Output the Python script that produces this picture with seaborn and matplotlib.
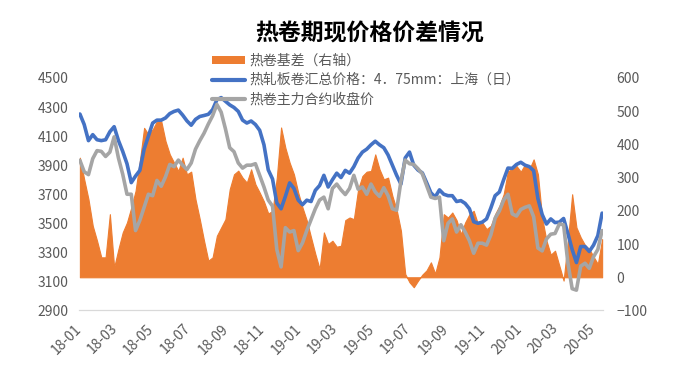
import pandas as pd
import seaborn as sns
import matplotlib.pyplot as plt
import matplotlib.dates as mdates
from matplotlib.patches import Patch
from matplotlib.lines import Line2D

# ---- data (roughly weekly samples) ----
dates = pd.date_range('2018-01-02', '2020-05-17', periods=123)

spot = [4252, 4180, 4069, 4110, 4075, 4069, 4075, 4130, 4165, 4070,
        3995, 3910, 3780, 3825, 3864, 4010, 4100, 4190, 4210, 4210,
        4225, 4255, 4270, 4279, 4245, 4205, 4175, 4215, 4235, 4242,
        4250, 4282, 4350, 4365, 4340, 4315, 4297, 4270, 4210, 4190,
        4204, 4180, 4140, 4040, 3868, 3805, 3640, 3600, 3685, 3778,
        3740, 3660, 3628, 3659, 3650, 3727, 3760, 3830, 3750, 3800,
        3845, 3815, 3864, 3845, 3890, 3950, 3990, 4010, 4040, 4065,
        4040, 4020, 3970, 3900, 3830, 3770, 3950, 3990, 3900, 3866,
        3847, 3780, 3710, 3681, 3730, 3700, 3690, 3690, 3650, 3656,
        3637, 3600, 3511, 3500, 3508, 3530, 3605, 3690, 3715, 3800,
        3880, 3878, 3905, 3920, 3900, 3890, 3862, 3670, 3560, 3495,
        3530, 3505, 3508, 3533, 3430, 3320, 3230, 3340, 3340, 3306,
        3350, 3415, 3570]

futures = [3933, 3855, 3835, 3945, 4000, 3995, 3960, 3990, 4095, 3950,
           3838, 3700, 3700, 3450, 3520, 3610, 3700, 3690, 3795, 3755,
           3820, 3905, 3890, 3935, 3900, 3870, 3915, 4010, 4068, 4120,
           4183, 4240, 4318, 4265, 4150, 4020, 3993, 3915, 3880, 3900,
           3900, 3910, 3830, 3750, 3660, 3618, 3320, 3200, 3470, 3440,
           3450, 3312, 3365, 3450, 3525, 3600, 3660, 3680, 3600, 3740,
           3770, 3730, 3698, 3740, 3830, 3735, 3750, 3700, 3770, 3716,
           3685, 3745, 3690, 3600, 3590, 3790, 3935, 3910, 3905, 3875,
           3840, 3760, 3680, 3671, 3680, 3380, 3500, 3530, 3440, 3490,
           3440, 3380, 3294, 3363, 3363, 3350, 3420, 3535, 3585, 3660,
           3700, 3565, 3550, 3595, 3610, 3620, 3545, 3330, 3310, 3392,
           3425, 3430, 3495, 3490, 3230, 3050, 3040, 3205, 3225, 3190,
           3270, 3320, 3450]

basis = [360, 295, 235, 155, 110, 60, 60, 190, 30, 85,
         135, 165, 210, 260, 350, 450, 430, 445, 470, 470,
         410, 370, 345, 320, 360, 310, 318, 235, 175, 110,
         50, 60, 125, 150, 175, 265, 310, 321, 300, 285,
         325, 280, 255, 228, 192, 200, 300, 451, 390, 345,
         310, 255, 210, 171, 120, 70, 25, 135, 100, 110,
         92, 95, 172, 180, 175, 265, 305, 318, 320, 370,
         325, 295, 300, 245, 203, 140, 10, -15, -30, -10,
         8, 21, 45, 11, 60, 190, 180, 195, 172, 130,
         165, 190, 200, 160, 165, 145, 155, 190, 215, 250,
         320, 325, 335, 318, 340, 325, 355, 310, 178, 110,
         68, 80, 35, -10, 110, 250, 150, 120, 97, 85,
         62, 40, 115]

df = pd.DataFrame({'date': dates, 'spot': spot, 'futures': futures, 'basis': basis})

label_basis = '热卷基差（右轴）'
label_spot = '热轧板卷汇总价格：4．75mm：上海（日）'
label_fut = '热卷主力合约收盘价'

c_orange = '#ED7D31'
c_blue = '#4472C4'
c_gray = '#A5A5A5'
c_text = '#595959'

sns.set_style('white')
plt.rcParams['font.family'] = ['Noto Sans CJK SC', 'DejaVu Sans']

fig = plt.figure(figsize=(6.86, 3.73), dpi=100)
ax = fig.add_axes([0.1156, 0.1676, 0.8786 - 0.1156, 0.7909 - 0.1676])
ax2 = ax.twinx()

# basis area on the right axis, behind the price lines
ax2.fill_between(df['date'], 0, df['basis'], color=c_orange, linewidth=0.8, edgecolor=c_orange)
ax2.set_ylim(-100, 600)
ax2.set_yticks(range(-100, 601, 100))

sns.lineplot(data=df, x='date', y='spot', ax=ax, color=c_blue, linewidth=2.6)
sns.lineplot(data=df, x='date', y='futures', ax=ax, color=c_gray, linewidth=2.6)
ax.set_ylim(2900, 4500)
ax.set_yticks(range(2900, 4501, 200))

ax.set_zorder(ax2.get_zorder() + 1)
ax.patch.set_visible(False)

ax.set_xlim(pd.Timestamp('2018-01-01'), pd.Timestamp('2020-05-18'))
ax.set_xticks(pd.date_range('2018-01-01', '2020-05-01', freq='2MS'))
ax.xaxis.set_major_formatter(mdates.DateFormatter('%y-%m'))
ax.set_xlabel('')
ax.set_ylabel('')
ax2.set_ylabel('')

for a in (ax, ax2):
    for s in a.spines.values():
        s.set_visible(False)
ax.spines['bottom'].set_visible(True)
ax.spines['bottom'].set_color('#D9D9D9')
ax.spines['bottom'].set_linewidth(0.9)

ax.tick_params(axis='x', colors='#D9D9D9', length=3.5, width=0.9, direction='out',
               pad=8, labelcolor=c_text, labelsize=10)
ax.tick_params(axis='y', length=0, pad=8, labelcolor=c_text, labelsize=10)
ax2.tick_params(axis='y', length=0, pad=10, labelcolor=c_text, labelsize=10)
for lbl in ax.get_xticklabels():
    lbl.set_rotation(45)
    lbl.set_ha('right')
    lbl.set_va('center')
    lbl.set_rotation_mode('anchor')

fig.text(0.539, 0.908, '热卷期现价格价差情况', ha='center', va='center',
         fontsize=16.5, fontweight='bold', color='black')

handles = [Patch(facecolor=c_orange, edgecolor='none'),
           Line2D([], [], color=c_blue, linewidth=3),
           Line2D([], [], color=c_gray, linewidth=3)]
leg = fig.legend(handles, [label_basis, label_spot, label_fut],
                 loc='upper left', bbox_to_anchor=(0.309, 0.856),
                 frameon=False, fontsize=10, labelcolor=c_text,
                 handlelength=2.4, handleheight=0.5, handletextpad=0.3,
                 labelspacing=0.38, borderpad=0, borderaxespad=0)

fig.savefig('out.png', dpi=100)
plt.close()
